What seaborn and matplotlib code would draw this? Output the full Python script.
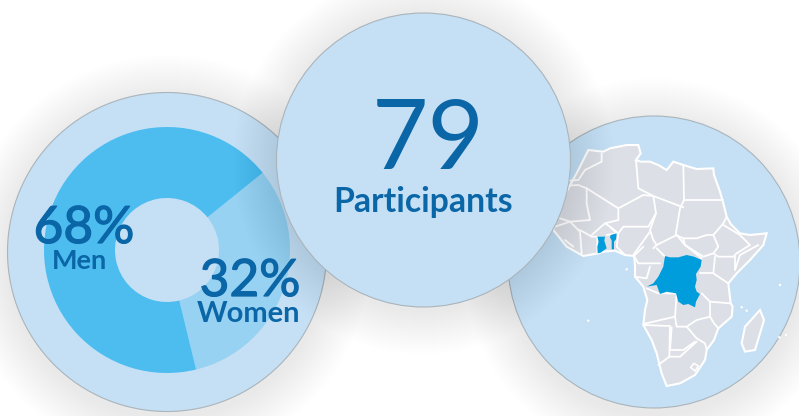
import matplotlib
matplotlib.use("Agg")
import matplotlib.pyplot as plt
import matplotlib.patheffects as pe
from matplotlib.patches import Circle, Polygon
import seaborn as sns

sns.set_style("white")
plt.rcParams['font.family'] = ['Lato', 'DejaVu Sans']

# values
gender = ["Women", "Men"]
share = [32, 68]
participants = "79"

# map (zoomed crop pixels)
coast = [(235,90),(280,95),(300,85),(350,75),(385,75),(392,100),(378,120),(392,125),(420,125),(445,135),(470,150),
         (490,125),(520,135),(560,147),(610,145),(612,165),(630,215),(640,250),(650,290),(662,312),(690,340),
         (720,345),(770,340),(760,375),(720,420),(680,460),(655,490),(662,550),(668,560),(665,590),(625,625),
         (612,660),(590,690),(585,720),(555,765),(510,790),(470,798),(455,760),(440,700),(425,660),(400,615),
         (405,570),(412,540),(400,500),(375,470),(375,435),(372,408),(345,405),(315,392),(280,395),(265,400),
         (220,408),(170,380),(130,330),(135,300),(170,215),(205,150)]
borders = [
    [(275,100),(275,125),(225,150),(205,180),(175,182)],
    [(175,197),(205,195),(230,205),(230,250),(240,300),(180,305),(150,295)],
    [(230,205),(325,265),(400,225),(430,228),(520,262)],
    [(378,120),(385,205),(430,228),(438,280),(415,320),(340,320),(325,340),(300,320),(285,310),(325,300),(325,265)],
    [(520,135),(522,240),(510,265),(497,345),(520,355),(560,355),(590,345),(610,345),(640,310),(650,290)],
    [(522,240),(638,240)],
    [(438,280),(420,330),(430,360),(440,375),(500,345)],
    [(520,355),(525,375),(580,410),(610,400),(625,380),(610,345)],
    [(640,315),(690,345),(720,375),(680,400),(670,410),(625,410),(610,400)],
    [(745,375),(690,405),(675,450),(675,410)],
    [(615,410),(610,460),(655,490)],
    [(570,460),(610,460)],
    [(575,520),(600,545),(660,550)],
    [(430,385),(440,375)],
    [(500,345),(525,375),(575,415)],
    [(325,340),(320,380),(345,405)],
    [(370,405),(420,335)],
    [(400,380),(372,408),(385,430),(450,430)],
    [(375,470),(410,475),(420,440)],
    [(465,410),(440,385)],
    [(410,505),(445,520),(500,520),(495,590),(400,612)],
    [(495,590),(500,620),(530,620),(560,600),(600,590),(600,545)],
    [(600,590),(612,610),(625,625)],
    [(530,620),(560,655),(585,670),(590,690)],
    [(400,615),(480,618),(478,710),(445,735)],
    [(485,622),(480,690),(520,690),(555,665)],
    [(478,710),(510,710),(560,665)],
    [(210,330),(245,350),(262,350),(262,400)],
    [(245,345),(285,310)],
    [(135,320),(180,305),(210,335),(215,400)],
    [(165,360),(190,380)],
    [(300,320),(320,340),(290,345)],
]
drc = [(465,408),(480,412),(505,412),(530,405),(552,410),(575,420),(572,440),(558,462),(560,480),(555,500),
       (560,515),(570,522),(558,545),(555,562),(535,552),(520,555),(505,545),(498,520),(470,515),(450,522),
       (440,495),(410,500),(430,490),(445,470),(460,440)]
ghana = [(262,350),(285,350),(283,362),(290,385),(272,398),(263,400),(262,380),(266,365)]
benin = [(302,345),(320,340),(318,358),(312,365),(312,388),(305,388),(305,362),(300,352)]
madagascar = [(750,570),(762,600),(735,690),(705,695),(695,670),(705,620)]
lesotho = [(542,742),(552,730),(565,738),(555,753)]
islands = [(810,495),(235,602),(350,448),(808,652),(828,645),(695,562),(710,572)]

bg = "#c5e0f4"
edge = "#aab4bb"
land = "#dddfe6"
blue = "#009ddc"
dark = "#0a66a6"
pal = sns.color_palette(["#97d2f3", "#4dbdf0"])
thick = [pe.withStroke(linewidth=0.9, foreground=dark)]


def mp(pts):
    # crop pixels -> figure pixels, y up
    return [(510 + x / 3, 416 - (120 + y / 3)) for x, y in pts]


def shadow(ax, x, y, r, z, a):
    for i in range(0, 44, 2):
        ax.add_patch(Circle((x, y), r + 44 - i, color="black", alpha=a, lw=0, zorder=z))


fig = plt.figure(figsize=(7.99, 4.16), dpi=100)
ax = fig.add_axes([0, 0, 1, 1])

# left circle
shadow(ax, 167, 416 - 258, 159, 1, 0.003)
ax.add_patch(Circle((167, 416 - 252), 159.5, fc=bg, ec=edge, lw=0.8, zorder=2))
wedges, _ = ax.pie(share, colors=pal, startangle=38.9 - 115.2, counterclock=True,
                   center=(167, 416 - 250), radius=123,
                   wedgeprops={"width": 71, "lw": 0})
for w in wedges:
    w.set_zorder(3)

# right circle and map
shadow(ax, 654, 416 - 268, 146, 1, 0.003)
ax.add_patch(Circle((654, 416 - 262), 146, fc=bg, ec=edge, lw=0.8, zorder=2))
ax.add_patch(Polygon(mp(coast), fc=land, ec="white", lw=1.5, zorder=3))
for b in borders:
    xs, ys = zip(*mp(b))
    ax.plot(xs, ys, color="white", lw=1.3, zorder=4, solid_joinstyle="round")
for poly in [drc, ghana, benin]:
    ax.add_patch(Polygon(mp(poly), fc=blue, ec="none", zorder=5))
ax.add_patch(Polygon(mp(madagascar), fc=land, ec="white", lw=1.5, zorder=3))
ax.add_patch(Polygon(mp(lesotho), fc=land, ec="white", lw=1.1, zorder=4))
for p in mp(islands):
    ax.add_patch(Circle(p, 1.2, fc="white", lw=0, zorder=4))

# middle circle on top
shadow(ax, 423.5, 416 - 163, 147, 6, 0.0045)
ax.add_patch(Circle((423.5, 416 - 160), 147, fc=bg, ec=edge, lw=0.8, zorder=7))

ax.text(428, 416 - 142, participants, fontsize=70, color=dark, ha="center", va="center", zorder=8)
ax.text(423, 416 - 202, "Participants", fontsize=24.3, fontweight="bold", color=dark, ha="center", va="center", zorder=8)
ax.text(84, 416 - 229, "68%", fontsize=37, color=dark, ha="center", va="center", zorder=8, path_effects=thick)
ax.text(79, 416 - 261, gender[1], fontsize=19.5, fontweight="bold", color=dark, ha="center", va="center", zorder=8)
ax.text(250, 416 - 282, "32%", fontsize=37, color=dark, ha="center", va="center", zorder=8, path_effects=thick)
ax.text(248.5, 416 - 314, gender[0], fontsize=21, fontweight="bold", color=dark, ha="center", va="center", zorder=8)

ax.set_xlim(0, 799)
ax.set_ylim(0, 416)
ax.set_aspect("equal")
ax.axis("off")
fig.savefig("out.png", dpi=100)
